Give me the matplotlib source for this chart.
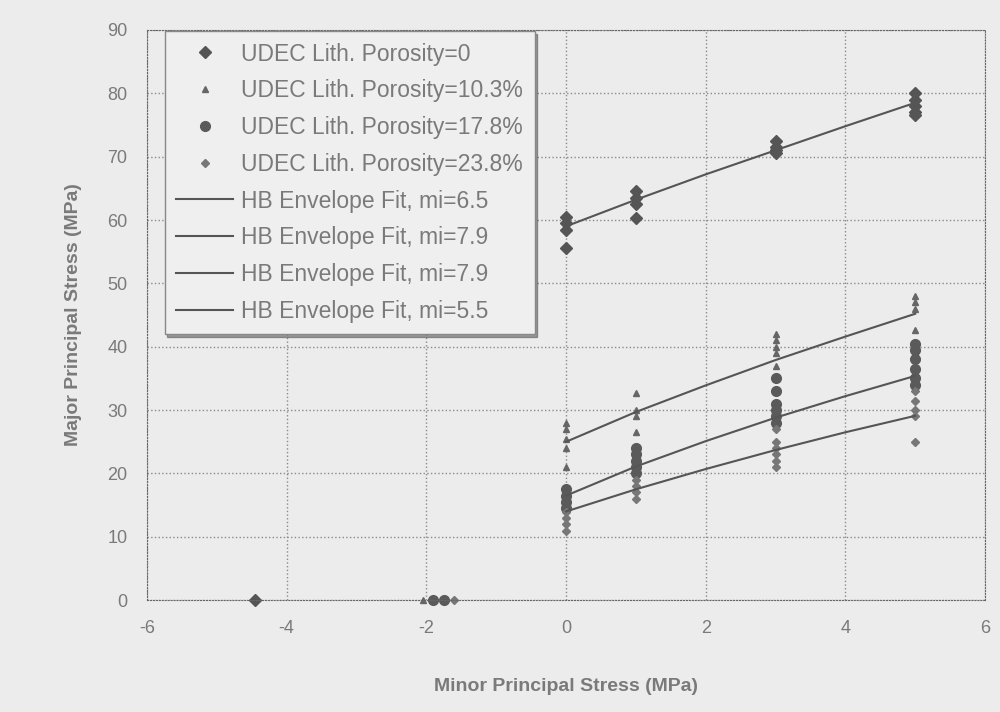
import matplotlib.pyplot as plt
import numpy as np

plt.rcParams['font.family'] = ['Liberation Sans', 'DejaVu Sans']
plt.rcParams['axes.unicode_minus'] = False

# scatter data (minor stress, major stress) per porosity
p0_x = [-4.45, 0, 0, 0, 0, 1, 1, 1, 1, 3, 3, 3, 3, 5, 5, 5, 5, 5]
p0_y = [0, 60.5, 59.5, 58.5, 55.6, 64.5, 63.5, 62.5, 60.3, 72.5, 71.5, 71, 70.5, 80, 79, 78, 77, 76.5]

p10_x = [-2.05, 0, 0, 0, 0, 0, 1, 1, 1, 1, 3, 3, 3, 3, 3, 5, 5, 5, 5]
p10_y = [0, 28, 27, 25.5, 24, 21, 32.7, 30, 29, 26.5, 42, 41, 40, 39, 37, 48, 47, 46, 42.7]

p17_x = [-1.9, -1.75, 0, 0, 0, 0, 1, 1, 1, 1, 1, 3, 3, 3, 3, 3, 3, 5, 5, 5, 5, 5, 5]
p17_y = [0, 0, 17.5, 16.5, 15.5, 14.5, 24, 23, 22, 21, 20, 35, 33, 31, 30, 29, 28,
         40.5, 39.5, 38, 36.5, 35, 34]

p23_x = [-1.6, 0, 0, 0, 0, 1, 1, 1, 1, 3, 3, 3, 3, 3, 3, 5, 5, 5, 5, 5]
p23_y = [0, 14, 13, 12, 11, 19, 18, 17, 16, 27, 25, 24, 23, 22, 21, 33, 31.5, 30, 29, 25]

# Hoek-Brown envelope fits, read at sigma3 = 0..5
fit_x = [0, 1, 2, 3, 4, 5]
fit_mi65 = [59, 63.2, 67.2, 71.0, 74.8, 78.5]
fit_mi79a = [25, 29.7, 33.9, 37.9, 41.6, 45.2]
fit_mi79b = [16.5, 21.1, 25.1, 28.8, 32.2, 35.4]
fit_mi55 = [14, 17.5, 20.7, 23.7, 26.5, 29.1]

bg = '#ececec'
txt = '#7a7a7a'
fig = plt.figure(figsize=(10, 7.12), dpi=100, facecolor=bg)
ax = fig.add_axes([0.147, 0.157, 0.838, 0.801], facecolor=bg)

ax.plot(p0_x, p0_y, 'D', color='#555555', ms=6, ls='none', clip_on=False, label='UDEC Lith. Porosity=0')
ax.plot(p10_x, p10_y, '^', color='#666666', ms=4, ls='none', clip_on=False, label='UDEC Lith. Porosity=10.3%')
ax.plot(p17_x, p17_y, 'o', color='#5a5a5a', ms=7, ls='none', clip_on=False, label='UDEC Lith. Porosity=17.8%')
ax.plot(p23_x, p23_y, 'D', color='#777777', ms=4, ls='none', clip_on=False, label='UDEC Lith. Porosity=23.8%')

ax.plot(fit_x, fit_mi65, color='#555555', lw=1.5, label='HB Envelope Fit, mi=6.5')
ax.plot(fit_x, fit_mi79a, color='#555555', lw=1.5, label='HB Envelope Fit, mi=7.9')
ax.plot(fit_x, fit_mi79b, color='#555555', lw=1.5, label='HB Envelope Fit, mi=7.9')
ax.plot(fit_x, fit_mi55, color='#555555', lw=1.5, label='HB Envelope Fit, mi=5.5')

ax.set_xlim(-6, 6)
ax.set_ylim(0, 90)
ax.set_xticks(np.arange(-6, 7, 2))
ax.set_yticks(np.arange(0, 91, 10))
ax.grid(True, ls=':', color='#8a8a8a', lw=1)
for s in ax.spines.values():
    s.set_linestyle(':')
    s.set_color('#666666')
ax.tick_params(length=0, pad=14, labelsize=13, labelcolor=txt)

ax.set_xlabel('Minor Principal Stress (MPa)', fontsize=14, fontweight='bold', color=txt, labelpad=30)
ax.set_ylabel('Major Principal Stress (MPa)', fontsize=14, fontweight='bold', color=txt, labelpad=18)

leg = ax.legend(loc='upper left', bbox_to_anchor=(0.021, 0.998), fontsize=16.5, numpoints=1,
                handlelength=2.5, frameon=True, shadow=True, fancybox=False,
                facecolor='#efefef', edgecolor='#888888', framealpha=1,
                labelspacing=0.6, borderpad=0.5, handletextpad=0.35, borderaxespad=0)
for t in leg.get_texts():
    t.set_color(txt)

fig.savefig('out.png', dpi=100, facecolor=bg)
